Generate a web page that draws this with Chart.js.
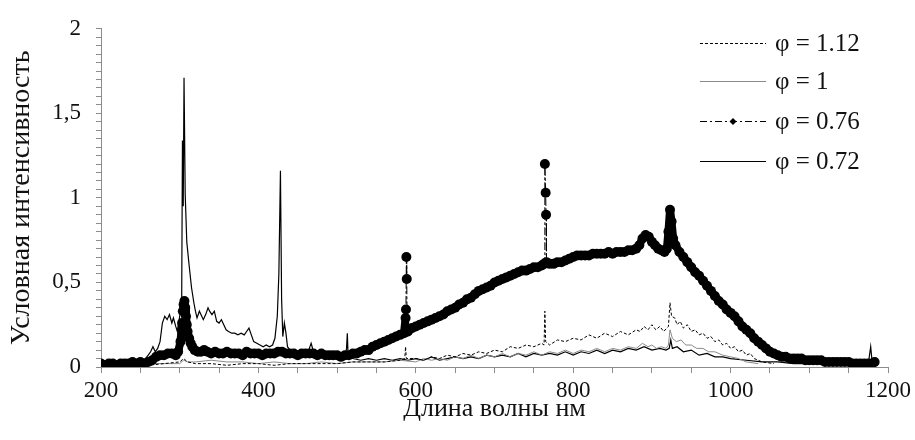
<!DOCTYPE html>
<html>
<head>
<meta charset="utf-8">
<script src="https://cdn.jsdelivr.net/npm/chart.js@4.4.0/dist/chart.umd.min.js"></script>
<style>
  html, body { margin: 0; padding: 0; background: #fff; }
  #wrap { width: 915px; height: 440px; }
</style>
</head>
<body>
<div id="wrap"><canvas id="spectrum"></canvas></div>
<script>
// Спектры излучения пламени при разных φ
const seriesNames = ["φ = 1.12", "φ = 1", "φ = 0.76", "φ = 0.72"];
const xTickLabels = [200, 400, 600, 800, 1000, 1200];
const yTickLabels = [0, 0.5, 1, 1.5, 2];

// φ = 1.12
const wl112 = [200, 220, 240, 260, 280, 300, 305, 310, 320, 340,
  360, 380, 400, 420, 440, 460, 480, 500, 520, 540,
  560, 580, 586, 587, 588,
  600, 610, 620, 630, 640, 650, 660, 670, 680, 690,
  700, 710, 720, 730, 740, 750, 760, 763, 764, 765,
  770, 780, 790, 800, 810, 820, 830, 840, 850, 860,
  870, 880, 885, 890, 895, 900, 905, 910, 915, 921,
  923, 925, 929, 932, 936, 940, 945, 950, 955, 960,
  965, 970, 975, 980, 985, 990, 995, 1000, 1005, 1010,
  1015, 1020, 1025, 1030, 1040, 1055];
const int112 = [0.01, 0.01, 0.02, 0.01, 0.02, 0.03, 0.05, 0.03, 0.02, 0.02,
  0.01, 0.02, 0.02, 0.01, 0.02, 0.02, 0.02, 0.02, 0.03, 0.03,
  0.03, 0.04, 0.05, 0.12, 0.05,
  0.05, 0.04, 0.06, 0.05, 0.07, 0.06, 0.08, 0.07, 0.09, 0.08,
  0.10, 0.09, 0.12, 0.11, 0.13, 0.12, 0.14, 0.13, 0.33, 0.15,
  0.13, 0.16, 0.15, 0.17, 0.16, 0.19, 0.17, 0.20, 0.18, 0.21,
  0.19, 0.22, 0.21, 0.24, 0.22, 0.25, 0.22, 0.24, 0.21, 0.24,
  0.38, 0.30, 0.29, 0.25, 0.27, 0.23, 0.25, 0.21, 0.22, 0.19,
  0.20, 0.17, 0.18, 0.15, 0.16, 0.13, 0.14, 0.11, 0.12, 0.09,
  0.10, 0.07, 0.08, 0.05, 0.03, 0.02];

// φ = 1
const wl100 = [200, 220, 240, 260, 280, 300, 305, 310, 320, 340,
  360, 380, 400, 420, 440, 460, 480, 500, 520, 540,
  560, 580,
  600, 610, 620, 630, 640, 650, 660, 670, 680, 690,
  700, 710, 720, 730, 740, 750, 760, 770, 780, 790,
  800, 810, 820, 830, 840, 850, 860, 870, 880, 888,
  895, 900, 906, 912, 918, 921, 923, 926, 931, 937,
  943, 950, 957, 965, 972, 980, 990, 1000, 1010, 1020,
  1035];
const int100 = [0.01, 0.02, 0.01, 0.02, 0.02, 0.02, 0.04, 0.03, 0.03, 0.04,
  0.03, 0.03, 0.02, 0.03, 0.02, 0.02, 0.03, 0.02, 0.03, 0.03,
  0.03, 0.04,
  0.03, 0.05, 0.04, 0.05, 0.04, 0.06, 0.05, 0.07, 0.05, 0.07,
  0.06, 0.08, 0.06, 0.08, 0.07, 0.09, 0.07, 0.09, 0.08, 0.10,
  0.08, 0.10, 0.09, 0.11, 0.09, 0.11, 0.10, 0.12, 0.11, 0.14,
  0.12, 0.13, 0.11, 0.12, 0.11, 0.13, 0.22, 0.17, 0.15, 0.16,
  0.13, 0.13, 0.11, 0.11, 0.09, 0.09, 0.07, 0.06, 0.05, 0.03,
  0.02];

// φ = 0.76
const wl076 = [200, 205, 210, 215, 220, 225, 230, 235, 240, 245,
  250, 255, 260, 265, 270, 275, 280, 285, 290, 295,
  298, 301, 303, 304, 305, 306, 307, 308, 309, 310,
  312, 314, 316, 319, 323, 327, 331, 335, 340, 345,
  350, 355, 360, 365, 370, 375, 380, 385, 390, 395,
  400, 405, 410, 415, 420, 425, 430, 435, 440, 445,
  450, 455, 460, 465, 470, 475, 480, 485, 490, 495,
  500, 505, 510, 515, 520, 525, 530, 535, 540, 545,
  550, 555, 560, 565, 570, 575, 580, 585, 587, 587.5,
  588, 588.5, 589, 590, 595, 600, 605, 610, 615, 620,
  625, 630, 635, 640, 645, 650, 655, 660, 665, 670,
  675, 680, 685, 690, 695, 700, 705, 710, 715, 720,
  725, 730, 735, 740, 745, 750, 755, 760, 763, 764,
  765, 765.5, 766, 770, 775, 780, 785, 790, 795, 800,
  805, 810, 815, 820, 825, 830, 835, 840, 845, 850,
  855, 860, 865, 870, 875, 880, 884, 888, 892, 896,
  900, 904, 908, 912, 916, 919, 921, 923, 925, 927,
  930, 935, 940, 945, 950, 955, 960, 965, 970, 975,
  980, 985, 990, 995, 1000, 1005, 1010, 1015, 1020, 1025,
  1030, 1035, 1040, 1045, 1050, 1055, 1060, 1065, 1070, 1075,
  1080, 1085, 1090, 1095, 1100, 1105, 1110, 1115, 1120, 1125,
  1130, 1135, 1140, 1145, 1150, 1155, 1160, 1165, 1170, 1175,
  1180, 1183];
const int076 = [0.02, 0.01, 0.02, 0.02, 0.01, 0.02, 0.02, 0.02, 0.03, 0.02,
  0.03, 0.02, 0.03, 0.04, 0.06, 0.07, 0.07, 0.08, 0.08, 0.07,
  0.09, 0.15, 0.26, 0.33, 0.37, 0.39, 0.35, 0.30, 0.25, 0.21,
  0.17, 0.14, 0.12, 0.10, 0.09, 0.09, 0.10, 0.09, 0.08, 0.09,
  0.08, 0.08, 0.09, 0.08, 0.08, 0.08, 0.07, 0.09, 0.08, 0.08,
  0.08, 0.07, 0.08, 0.08, 0.08, 0.09, 0.09, 0.08, 0.08, 0.08,
  0.07, 0.08, 0.08, 0.08, 0.08, 0.07, 0.08, 0.07, 0.07, 0.07,
  0.07, 0.06, 0.07, 0.07, 0.08, 0.08, 0.09, 0.10, 0.10, 0.12,
  0.13, 0.14, 0.15, 0.16, 0.17, 0.18, 0.19, 0.20, 0.29, 0.34,
  0.65, 0.52, 0.21, 0.21, 0.23, 0.24, 0.25, 0.26, 0.27, 0.28,
  0.29, 0.30, 0.31, 0.33, 0.34, 0.35, 0.37, 0.38, 0.40, 0.41,
  0.43, 0.45, 0.46, 0.47, 0.48, 0.50, 0.51, 0.52, 0.53, 0.54,
  0.55, 0.56, 0.57, 0.57, 0.58, 0.59, 0.59, 0.60, 0.61, 1.20,
  1.03, 0.90, 0.62, 0.61, 0.61, 0.62, 0.62, 0.63, 0.64, 0.65,
  0.66, 0.66, 0.66, 0.66, 0.67, 0.67, 0.67, 0.67, 0.68, 0.67,
  0.68, 0.68, 0.68, 0.69, 0.69, 0.70, 0.72, 0.76, 0.78, 0.77,
  0.74, 0.72, 0.70, 0.69, 0.68, 0.70, 0.80, 0.93, 0.86, 0.76,
  0.72, 0.68, 0.65, 0.62, 0.59, 0.56, 0.54, 0.51, 0.48, 0.45,
  0.42, 0.39, 0.37, 0.34, 0.32, 0.30, 0.27, 0.24, 0.22, 0.20,
  0.17, 0.15, 0.13, 0.11, 0.09, 0.08, 0.07, 0.06, 0.06, 0.05,
  0.05, 0.05, 0.05, 0.04, 0.04, 0.04, 0.04, 0.04, 0.03, 0.03,
  0.03, 0.03, 0.03, 0.03, 0.03, 0.02, 0.02, 0.02, 0.02, 0.02,
  0.02, 0.03];

// φ = 0.72
const wl072 = [200, 210, 220, 230, 240, 250, 255, 260, 263, 266,
  269, 272, 275, 278, 281, 284, 287, 290, 292, 295,
  297, 299, 301, 302.5, 303.5, 304.5, 305.5, 307, 309, 312,
  315, 318, 320, 322, 325, 327, 330, 333, 336, 338,
  341, 344, 347, 350, 353, 356, 359, 362, 366, 370,
  374, 378, 382, 385, 388, 391, 394, 398, 402, 406,
  410, 414, 418, 421, 424, 426, 428, 429.5, 431, 433,
  435, 437, 440, 445, 450, 455, 460, 464, 467, 470,
  475, 480, 485, 490, 495, 500, 505, 510, 512, 513,
  514,
  520, 530, 540, 550, 560, 570, 580, 590, 600, 610,
  620, 630, 640, 650, 660, 670, 680, 690, 700, 710,
  720, 730, 740, 750, 760, 770, 780, 790, 800, 810,
  820, 830, 840, 850, 860, 870, 880, 890, 900, 910,
  918, 922, 924, 926, 932, 940, 950, 960, 970, 980,
  990, 1000, 1020, 1040, 1060, 1080, 1100, 1120, 1140, 1160,
  1175, 1178, 1180, 1185];
const int072 = [0.01, 0.02, 0.01, 0.02, 0.02, 0.03, 0.04, 0.07, 0.09, 0.12,
  0.09, 0.11, 0.15, 0.26, 0.30, 0.28, 0.31, 0.26, 0.29, 0.24,
  0.21, 0.27, 0.33, 0.36, 1.34, 0.95, 1.71, 1.02, 0.74, 0.60,
  0.47, 0.38, 0.33, 0.29, 0.33, 0.31, 0.28, 0.31, 0.35, 0.33,
  0.31, 0.33, 0.27, 0.26, 0.28, 0.25, 0.22, 0.21, 0.20, 0.20,
  0.19, 0.20, 0.19, 0.21, 0.23, 0.19, 0.15, 0.14, 0.13, 0.12,
  0.13, 0.12, 0.13, 0.17, 0.30, 0.55, 1.16, 0.40, 0.18, 0.26,
  0.20, 0.12, 0.10, 0.09, 0.08, 0.08, 0.09, 0.10, 0.14, 0.09,
  0.08, 0.07, 0.08, 0.07, 0.07, 0.06, 0.07, 0.06, 0.11, 0.20,
  0.06,
  0.05, 0.04, 0.05, 0.04, 0.05, 0.04, 0.05, 0.04, 0.05, 0.04,
  0.06, 0.04, 0.05, 0.06, 0.05, 0.06, 0.05, 0.07, 0.06, 0.07,
  0.06, 0.08, 0.06, 0.08, 0.07, 0.08, 0.07, 0.09, 0.07, 0.09,
  0.08, 0.10, 0.08, 0.10, 0.09, 0.11, 0.10, 0.12, 0.10, 0.11,
  0.10, 0.11, 0.16, 0.11, 0.12, 0.09, 0.10, 0.07, 0.08, 0.06,
  0.06, 0.05, 0.04, 0.03, 0.03, 0.02, 0.02, 0.02, 0.02, 0.02,
  0.02, 0.12, 0.02, 0.02];

function toPoints(xs, ys) {
  return xs.map((x, i) => ({ x: x, y: ys[i] }));
}

// узкие выбросы рисуем тонкой штрих-пунктирной линией, остальное — жирной полосой
function isSpike(seg) {
  const dx = Math.abs(seg.p1.x - seg.p0.x);
  const dy = Math.abs(seg.p1.y - seg.p0.y);
  return dy > 15 * Math.max(dx, 0.01);
}

const serif = "'Liberation Serif', 'Times New Roman', serif";
const axisGray = "#8c8c8c";

// легенда справа сверху поверх области графика
const phiLegend = {
  id: "phiLegend",
  afterDraw(chart) {
    const ctx = chart.ctx;
    const rowsY = [43, 81, 121, 161];
    ctx.save();
    chart.data.datasets.forEach((ds, i) => {
      const y = rowsY[i] + 0.5;
      ctx.strokeStyle = ds.borderColor;
      ctx.lineWidth = ds.legendWidth;
      ctx.setLineDash(ds.legendDash);
      ctx.beginPath();
      ctx.moveTo(700, y);
      ctx.lineTo(766, y);
      ctx.stroke();
      if (ds.pointRadius > 0) {
        ctx.setLineDash([]);
        ctx.fillStyle = ds.pointBackgroundColor;
        ctx.beginPath();
        ctx.moveTo(733, y - 3.5);
        ctx.lineTo(736.5, y);
        ctx.lineTo(733, y + 3.5);
        ctx.lineTo(729.5, y);
        ctx.closePath();
        ctx.fill();
      }
      ctx.setLineDash([]);
      ctx.fillStyle = "#111";
      ctx.font = "25px " + serif;
      ctx.textBaseline = "middle";
      ctx.textAlign = "left";
      ctx.fillText(seriesNames[i], 775, rowsY[i] + 1);
    });
    ctx.restore();
  }
};

new Chart(document.getElementById("spectrum"), {
  type: "line",
  data: {
    datasets: [
      {
        label: seriesNames[0],
        data: toPoints(wl112, int112),
        borderColor: "#000",
        borderWidth: 1,
        borderDash: [3, 2],
        legendDash: [3, 2],
        legendWidth: 1,
        pointRadius: 0,
        order: 1
      },
      {
        label: seriesNames[1],
        data: toPoints(wl100, int100),
        borderColor: "#8a8a8a",
        borderWidth: 1,
        legendDash: [],
        legendWidth: 1,
        pointRadius: 0,
        order: 1
      },
      {
        label: seriesNames[2],
        data: toPoints(wl076, int076),
        borderColor: "#000",
        borderWidth: 8,
        borderJoinStyle: "round",
        borderCapStyle: "round",
        legendDash: [7, 3, 2, 3],
        legendWidth: 1,
        segment: {
          borderWidth: (s) => (isSpike(s) ? 1 : undefined),
          borderDash: (s) => (isSpike(s) ? [7, 3, 2, 3] : undefined)
        },
        pointRadius: 5,
        pointStyle: "circle",
        pointBackgroundColor: "#000",
        pointBorderWidth: 0,
        order: 0
      },
      {
        label: seriesNames[3],
        data: toPoints(wl072, int072),
        borderColor: "#000",
        borderWidth: 1.2,
        legendDash: [],
        legendWidth: 1.2,
        pointRadius: 0,
        order: 1
      }
    ]
  },
  options: {
    responsive: true,
    maintainAspectRatio: false,
    animation: false,
    layout: { padding: { top: 25, right: 24, bottom: 0, left: 0 } },
    elements: { line: { tension: 0 } },
    plugins: {
      legend: { display: false },
      tooltip: { enabled: false }
    },
    scales: {
      x: {
        type: "linear",
        min: 200,
        max: 1200,
        border: { color: axisGray, width: 1 },
        grid: { drawOnChartArea: false, tickLength: 6, tickColor: axisGray },
        ticks: {
          stepSize: 50,
          autoSkip: false,
          maxRotation: 0,
          minRotation: 0,
          padding: 4,
          color: "#111",
          font: { family: serif, size: 23 },
          callback: (v) => (xTickLabels.includes(v) ? String(v) : "")
        },
        title: {
          display: true,
          text: "Длина волны нм",
          color: "#111",
          font: { family: serif, size: 26 },
          padding: { top: 0, bottom: 15 }
        },
        afterFit: (scale) => { scale.height = 73; }
      },
      y: {
        min: 0,
        max: 2,
        border: { color: axisGray, width: 1 },
        grid: { drawOnChartArea: false, tickLength: 5, tickColor: axisGray },
        ticks: {
          stepSize: 0.05,
          autoSkip: false,
          padding: 15,
          color: "#111",
          font: { family: serif, size: 23 },
          callback: (v) => {
            const major = yTickLabels.find((t) => Math.abs(t - v) < 1e-6);
            return major === undefined ? "" : String(major).replace(".", ",");
          }
        },
        title: {
          display: true,
          text: "Условная интенсивность",
          color: "#111",
          font: { family: serif, size: 28 },
          padding: { top: 5, bottom: 0 }
        },
        afterFit: (scale) => { scale.width = 101; }
      }
    }
  },
  plugins: [phiLegend]
});
</script>
</body>
</html>
